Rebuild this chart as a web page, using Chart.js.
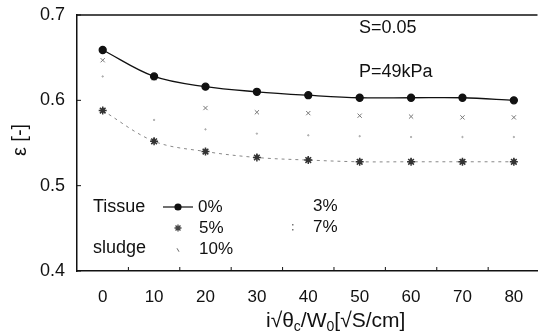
<!DOCTYPE html>
<html>
<head>
<meta charset="utf-8">
<script src="https://cdn.jsdelivr.net/npm/chart.js@4.4.1/dist/chart.umd.min.js"></script>
<style>
  body { margin: 0; background: #fff; }
  #wrap { position: relative; width: 543px; height: 336px; }
</style>
</head>
<body>
<div id="wrap"><canvas id="myChart"></canvas></div>
<script>
// x positions (i*sqrt(theta_c)/W0) and epsilon values
const xValues = [0, 10, 20, 30, 40, 50, 60, 70, 80];
const tissue0 = [0.659, 0.628, 0.616, 0.610, 0.606, 0.603, 0.603, 0.603, 0.600];
const tissue3 = [0.647, 0.626, 0.591, 0.586, 0.585, 0.582, 0.581, 0.580, 0.580];
const tissue5 = [0.588, 0.552, 0.540, 0.533, 0.530, 0.528, 0.528, 0.528, 0.528];
const tissue7 = [0.628, 0.577, 0.566, 0.561, 0.559, 0.558, 0.557, 0.557, 0.557];
const tissue10 = [0.589, 0.553, 0.541, 0.534, 0.531, 0.529, 0.529, 0.529, 0.529];
const xTicks = [0, 10, 20, 30, 40, 50, 60, 70, 80];
const xMinor = [5, 15, 25, 35, 45, 55, 65, 75];
const yTicks = [0.4, 0.5, 0.6, 0.7];

const toPoints = (ys) => xValues.map((x, i) => ({ x: x, y: ys[i] }));

const FONT = '"Liberation Sans", Arial, sans-serif';

// frame, minor ticks, inline legend and annotations
const decorations = {
  id: 'decorations',
  afterDraw(chart) {
    const ctx = chart.ctx;
    const area = chart.chartArea;
    const xs = chart.scales.x;
    const ys = chart.scales.y;
    ctx.save();
    ctx.strokeStyle = '#111';
    ctx.lineWidth = 1.5;
    ctx.beginPath();
    ctx.moveTo(area.left, area.top);
    ctx.lineTo(area.right, area.top);
    ctx.stroke();

    ctx.lineWidth = 1;
    xMinor.forEach(v => {
      const px = xs.getPixelForValue(v);
      ctx.beginPath();
      ctx.moveTo(px, area.bottom);
      ctx.lineTo(px, area.bottom - 4);
      ctx.stroke();
    });
    yTicks.forEach(v => {
      const py = ys.getPixelForValue(v);
      ctx.beginPath();
      ctx.moveTo(area.left, py);
      ctx.lineTo(area.left + 4, py);
      ctx.stroke();
    });

    ctx.fillStyle = '#111';
    ctx.textBaseline = 'middle';
    ctx.textAlign = 'left';
    ctx.font = '18px ' + FONT;
    ctx.fillText('S=0.05', 359, 28);
    ctx.fillText('P=49kPa', 359, 72);

    ctx.font = '18px ' + FONT;
    ctx.fillText('Tissue', 93, 207);
    ctx.fillText('sludge', 93, 248);
    ctx.font = '17px ' + FONT;
    ctx.fillText('0%', 198, 207);
    ctx.fillText('5%', 199, 228);
    ctx.fillText('10%', 199, 249);
    ctx.fillText('3%', 313, 206);
    ctx.fillText('7%', 313, 227);

    // legend markers
    ctx.lineWidth = 1.2;
    ctx.beginPath();
    ctx.moveTo(163, 207);
    ctx.lineTo(193, 207);
    ctx.stroke();
    Chart.helpers.drawPoint(ctx, { pointStyle: 'circle', radius: 3, borderWidth: 1 }, 178, 207);
    ctx.fill();
    ctx.strokeStyle = '#444';
    ctx.lineWidth = 1.3;
    Chart.helpers.drawPoint(ctx, { pointStyle: 'star', radius: 3.5, borderWidth: 1.3 }, 178, 228);
    ctx.strokeStyle = '#666';
    ctx.lineWidth = 1;
    Chart.helpers.drawPoint(ctx, { pointStyle: 'line', radius: 2, rotation: 60, borderWidth: 1 }, 178, 250);
    ctx.fillStyle = '#777';
    ctx.fillRect(292, 224, 1.5, 1.5);
    ctx.fillRect(292, 229, 1.5, 1.5);

    // x axis title with subscripts
    ctx.fillStyle = '#111';
    ctx.textBaseline = 'alphabetic';
    let x = 266;
    const base = 327;
    const part = (txt, size, dy) => {
      ctx.font = size + 'px ' + FONT;
      ctx.fillText(txt, x, base + dy);
      x += ctx.measureText(txt).width;
    };
    part('i\u221A\u03B8', 21, 0);
    part('c', 14, 4);
    part('/W', 21, 0);
    part('0', 14, 4);
    part('[\u221AS/cm]', 21, 0);

    // y axis title
    ctx.save();
    ctx.translate(20, 140);
    ctx.rotate(-Math.PI / 2);
    ctx.textAlign = 'center';
    ctx.textBaseline = 'middle';
    ctx.font = '20px ' + FONT;
    ctx.fillText('\u03B5 [-]', 0, 0);
    ctx.restore();

    ctx.restore();
  }
};

new Chart(document.getElementById('myChart'), {
  type: 'line',
  data: {
    datasets: [{
      label: '0%',
      data: toPoints(tissue0),
      borderColor: '#111',
      backgroundColor: '#111',
      borderWidth: 1.3,
      pointStyle: 'circle',
      pointRadius: 3.5,
      tension: 0.35
    }, {
      label: '3%',
      data: toPoints(tissue3),
      showLine: false,
      borderColor: '#777',
      pointStyle: 'crossRot',
      pointRadius: 3,
      pointBorderWidth: 1
    }, {
      label: '5%',
      data: toPoints(tissue5),
      borderColor: '#888',
      borderWidth: 1,
      borderDash: [3, 4],
      pointBorderColor: '#333',
      pointBackgroundColor: '#333',
      pointStyle: 'star',
      pointRadius: 4,
      pointBorderWidth: 1.5,
      tension: 0.35
    }, {
      label: '7%',
      data: toPoints(tissue7),
      showLine: false,
      borderColor: '#aaa',
      backgroundColor: '#aaa',
      pointStyle: 'circle',
      pointRadius: 0.7
    }, {
      label: '10%',
      data: toPoints(tissue10),
      showLine: false,
      borderColor: '#444',
      pointStyle: 'triangle',
      pointRadius: 2.5,
      pointBorderWidth: 1
    }]
  },
  options: {
    responsive: true,
    maintainAspectRatio: false,
    animation: false,
    layout: { padding: { top: 15, right: 0, left: 0, bottom: 0 } },
    plugins: {
      legend: { display: false },
      tooltip: { enabled: false }
    },
    scales: {
      x: {
        type: 'linear',
        min: -5,
        max: 84.6,
        afterBuildTicks: (scale) => { scale.ticks = xTicks.map(v => ({ value: v })); },
        afterFit: (scale) => { scale.height = 65; scale.paddingLeft = 0; scale.paddingRight = 0; },
        grid: { display: false, drawTicks: false },
        border: { display: true, color: '#111', width: 1.5 },
        ticks: {
          padding: 16,
          color: '#111',
          font: { family: FONT, size: 17 }
        }
      },
      y: {
        min: 0.4,
        max: 0.7,
        afterBuildTicks: (scale) => { scale.ticks = yTicks.map(v => ({ value: v })); },
        afterFit: (scale) => { scale.width = 77; scale.paddingTop = 0; scale.paddingBottom = 0; },
        grid: { display: false, drawTicks: false },
        border: { display: true, color: '#111', width: 1.5 },
        ticks: {
          padding: 12,
          color: '#111',
          font: { family: FONT, size: 18 },
          callback: (v) => v.toFixed(1)
        }
      }
    }
  },
  plugins: [decorations]
});
</script>
</body>
</html>
